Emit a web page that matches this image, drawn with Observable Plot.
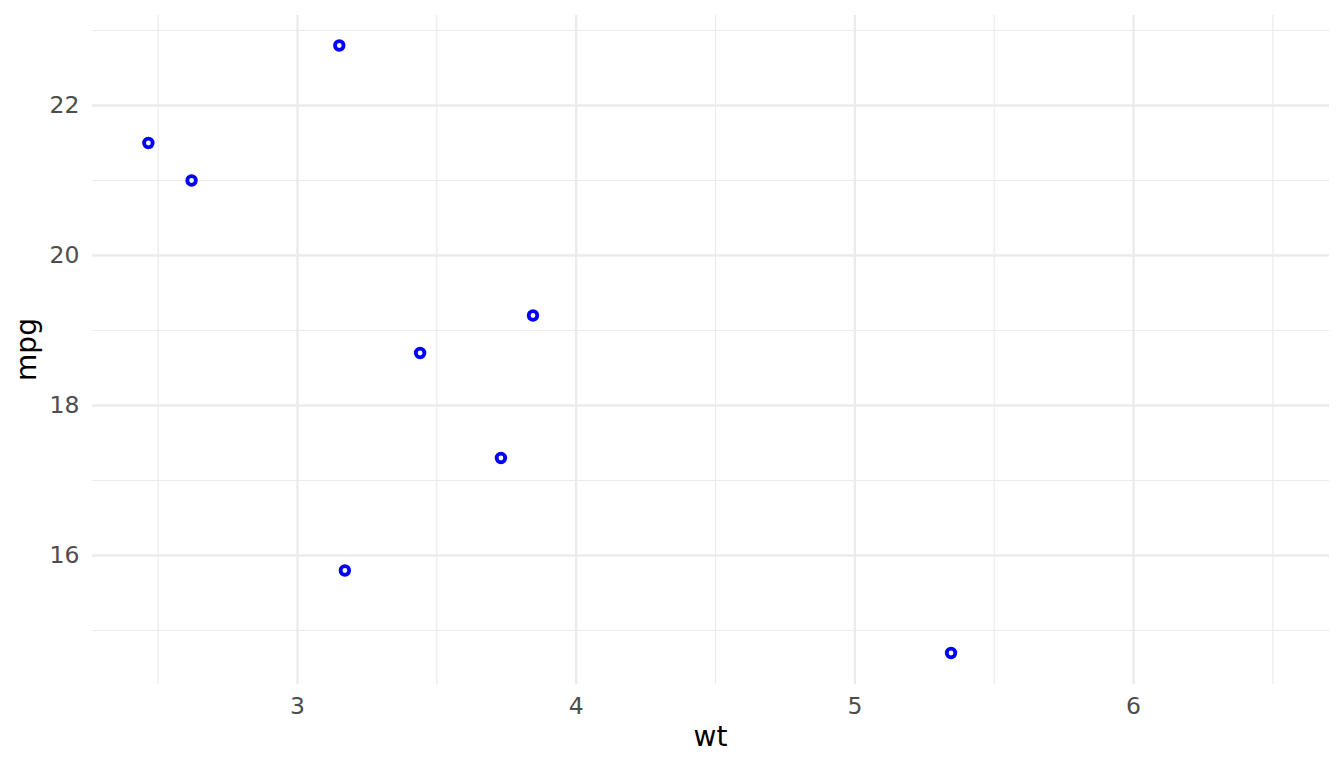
<!DOCTYPE html>
<html><head><meta charset="utf-8">
<script src="https://cdn.jsdelivr.net/npm/d3@7"></script>
<script src="https://cdn.jsdelivr.net/npm/@observablehq/plot@0.6"></script>
<style>body{margin:0;background:#fff}svg{font-family:"DejaVu Sans",sans-serif}</style>
</head><body><div id="chart"></div>
<script>
const wt = [2.465, 2.62, 3.15, 3.17, 3.44, 3.73, 3.845, 5.345];
const mpg = [21.5, 21.0, 22.8, 15.8, 18.7, 17.3, 19.2, 14.7];
const xMajor = [3, 4, 5, 6];
const xMinor = [2.5, 3.5, 4.5, 5.5, 6.5];
const yMajor = [16, 18, 20, 22];
const yMinor = [15, 17, 19, 21, 23];
const data = wt.map((w, i) => ({wt: w, mpg: mpg[i]}));
const grid = "#EBEBEB";
const chart = Plot.plot({
  width: 1344, height: 768,
  marginLeft: 92, marginRight: 15, marginTop: 15, marginBottom: 84,
  x: {domain: [2.2645, 6.703]},
  y: {domain: [14.28, 23.2]},
  style: {fontFamily: "DejaVu Sans, sans-serif", background: "#fff"},
  marks: [
    Plot.ruleX(xMinor, {stroke: grid, strokeWidth: 1.2}),
    Plot.ruleY(yMinor, {stroke: grid, strokeWidth: 1.2}),
    Plot.ruleX(xMajor, {stroke: grid, strokeWidth: 2.3}),
    Plot.ruleY(yMajor, {stroke: grid, strokeWidth: 2.3}),
    Plot.axisX(xMajor, {tickSize: 0, tickPadding: 13, label: null, fill: "#4D4D4D", fontSize: 23.5, tickFormat: d3.format("d")}),
    Plot.axisY(yMajor, {tickSize: 0, tickPadding: 13, label: null, fill: "#4D4D4D", fontSize: 23.5, tickFormat: d3.format("d")}),
    Plot.dot(data, {x: "wt", y: "mpg", r: 4.3, stroke: "blue", strokeWidth: 3.8, fill: "none"})
  ]
});
const svg = d3.select(chart);
svg.append("text").attr("x", 92 + (1344 - 92 - 15) / 2).attr("y", 746)
  .attr("text-anchor", "middle").style("font-size", "28px").attr("fill", "#000").text("wt");
svg.append("text").attr("transform", `translate(36,${15 + (768 - 15 - 84) / 2}) rotate(-90)`)
  .attr("text-anchor", "middle").style("font-size", "28px").attr("fill", "#000").text("mpg");
document.getElementById("chart").appendChild(chart);
</script></body></html>
